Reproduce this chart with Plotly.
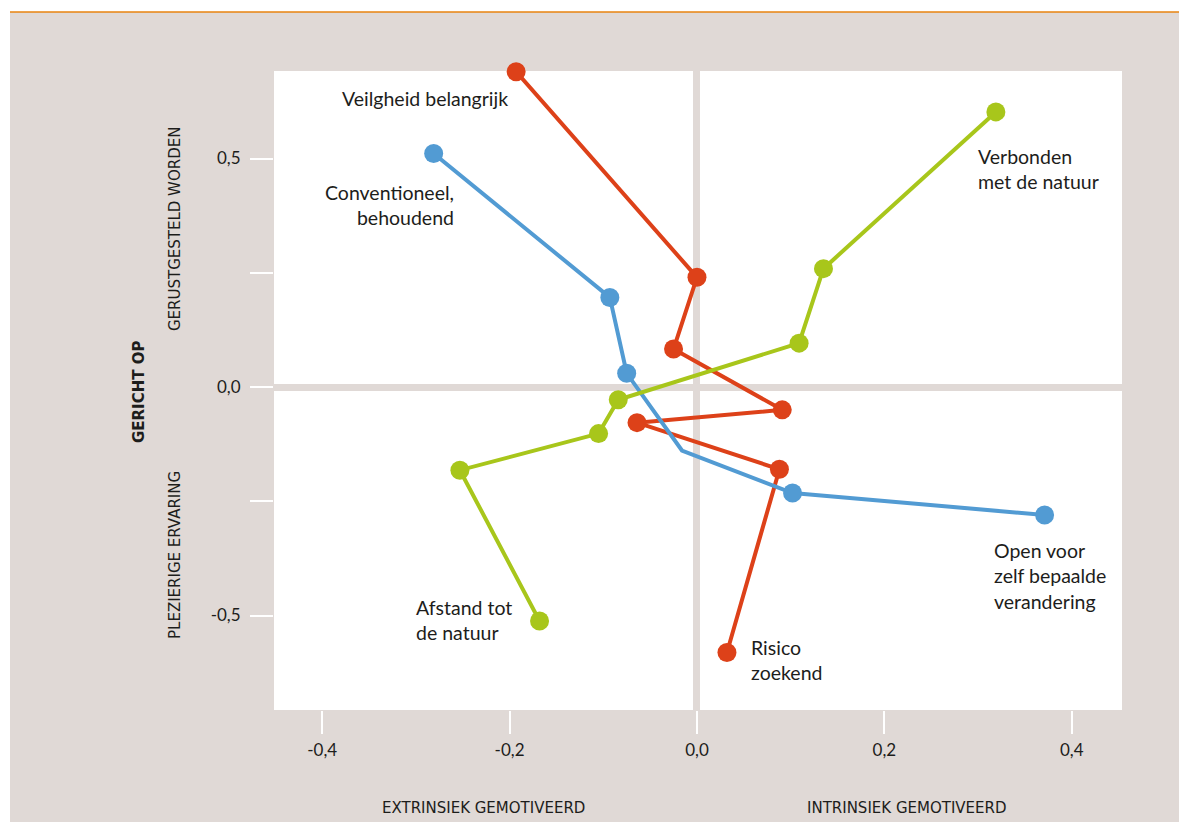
import plotly.graph_objects as go

# ---------------- data ----------------
red_x = [-0.193, 0.000, -0.025, 0.091, -0.064, 0.088, 0.032]
red_y = [0.690, 0.240, 0.083, -0.050, -0.078, -0.180, -0.581]

blue_x = [-0.281, -0.093, -0.075, -0.016, 0.102, 0.371]
blue_y = [0.511, 0.196, 0.030, -0.139, -0.232, -0.280]
blue_no_marker = [3]  # bend in the line without a dot

green_x = [-0.168, -0.253, -0.105, -0.084, 0.109, 0.135, 0.319]
green_y = [-0.512, -0.182, -0.102, -0.028, 0.096, 0.259, 0.602]

x_tick_vals = [-0.4, -0.2, 0.0, 0.2, 0.4]
x_tick_labels = ["-0,4", "-0,2", "0,0", "0,2", "0,4"]
y_tick_vals = [-0.5, -0.25, 0.0, 0.25, 0.5]
y_tick_labels = ["-0,5", "", "0,0", "", "0,5"]

# ---------------- styling ----------------
W, H = 1179, 823
L, R, T, B = 274, 57, 71, 113
PW, PH = W - L - R, H - T - B

BEIGE = "#e0d9d6"
ORANGE = "#e8830f"
RED = "#dd4119"
BLUE = "#529bd3"
GREEN = "#a8c61b"
TXT = "#1d1d1b"
FONT = "Lato"
CAPS_FONT = "DejaVu Sans"


def xp(px):
    return (px - L) / PW


def yp(py):
    return (H - B - py) / PH


fig = go.Figure()

for name, xs, ys, color, nomark in [
    ("Veiligheid", red_x, red_y, RED, []),
    ("Conventioneel", blue_x, blue_y, BLUE, blue_no_marker),
    ("Natuur", green_x, green_y, GREEN, []),
]:
    sizes = [0 if i in nomark else 19 for i in range(len(xs))]
    fig.add_trace(go.Scatter(
        x=xs, y=ys, mode="lines+markers", name=name, showlegend=False,
        line=dict(color=color, width=4),
        marker=dict(size=sizes, color=color, opacity=1, line=dict(width=0)),
        cliponaxis=False, hoverinfo="skip",
    ))

annots = []


def lab(text, px, py, xanchor, align):
    annots.append(dict(
        text=text, xref="paper", yref="paper", x=xp(px), y=yp(py),
        xanchor=xanchor, yanchor="middle", align=align, showarrow=False,
        font=dict(family=FONT, size=19.5, color=TXT),
    ))


lab("Veilgheid belangrijk", 510, 99, "right", "right")
lab("Conventioneel,<br>behoudend", 456, 204.5, "right", "right")
lab("Verbonden<br>met de natuur", 976, 169, "left", "left")
lab("Open voor<br>zelf bepaalde<br>verandering", 992, 576, "left", "left")
lab("Afstand tot<br>de natuur", 414, 620, "left", "left")
lab("Risico<br>zoekend", 749, 659.5, "left", "left")


def axlab(text, px, py, angle, bold=False, size=15):
    annots.append(dict(
        text=text, xref="paper", yref="paper", x=xp(px), y=yp(py),
        xanchor="center", yanchor="middle", showarrow=False, textangle=angle,
        font=dict(family=CAPS_FONT, size=size, color=TXT,
                  weight="bold" if bold else "normal"),
    ))


axlab("GERUSTGESTELD WORDEN", 175, 229, -90)
axlab("PLEZIERIGE ERVARING", 175, 555, -90)
axlab("GERICHT OP", 139, 392, -90, bold=True)
axlab("EXTRINSIEK GEMOTIVEERD", 483, 808, 0)
axlab("INTRINSIEK GEMOTIVEERD", 907, 808, 0)

shapes = [
    # white strips around the beige panel
    dict(type="rect", xref="paper", yref="paper", x0=xp(-5), x1=xp(W + 5),
         y0=yp(12), y1=yp(-5), fillcolor="white", line=dict(width=0), layer="above"),
    dict(type="rect", xref="paper", yref="paper", x0=xp(-5), x1=xp(10),
         y0=yp(H + 5), y1=yp(-5), fillcolor="white", line=dict(width=0), layer="above"),
    dict(type="rect", xref="paper", yref="paper", x0=xp(-5), x1=xp(W + 5),
         y0=yp(H + 5), y1=yp(822), fillcolor="white", line=dict(width=0), layer="above"),
    # orange rule on top
    dict(type="line", xref="paper", yref="paper", x0=xp(10), x1=xp(W + 5),
         y0=yp(12), y1=yp(12), line=dict(color=ORANGE, width=1.5), layer="above"),
]

axis_common = dict(
    showgrid=False, showline=False, zeroline=True,
    zerolinecolor=BEIGE, zerolinewidth=7,
    ticks="outside", ticklen=23, tickwidth=2, tickcolor="white",
    tickfont=dict(family=FONT, size=17, color=TXT),
    fixedrange=True,
)

fig.update_layout(
    width=W, height=H,
    margin=dict(l=L, r=R, t=T, b=B, pad=0),
    paper_bgcolor=BEIGE, plot_bgcolor="white",
    xaxis=dict(range=[-0.4514, 0.4536], tickvals=x_tick_vals, ticktext=x_tick_labels,
               ticklabelstandoff=2, **axis_common),
    yaxis=dict(range=[-0.7068, 0.6915], tickvals=y_tick_vals, ticktext=y_tick_labels,
               ticklabelstandoff=6, **axis_common),
    annotations=annots,
    shapes=shapes,
    showlegend=False,
)

fig.write_html(
    "out.html",
    config={"displayModeBar": False},
    post_script="document.body.style.margin='0';document.body.style.overflow='hidden';",
)
